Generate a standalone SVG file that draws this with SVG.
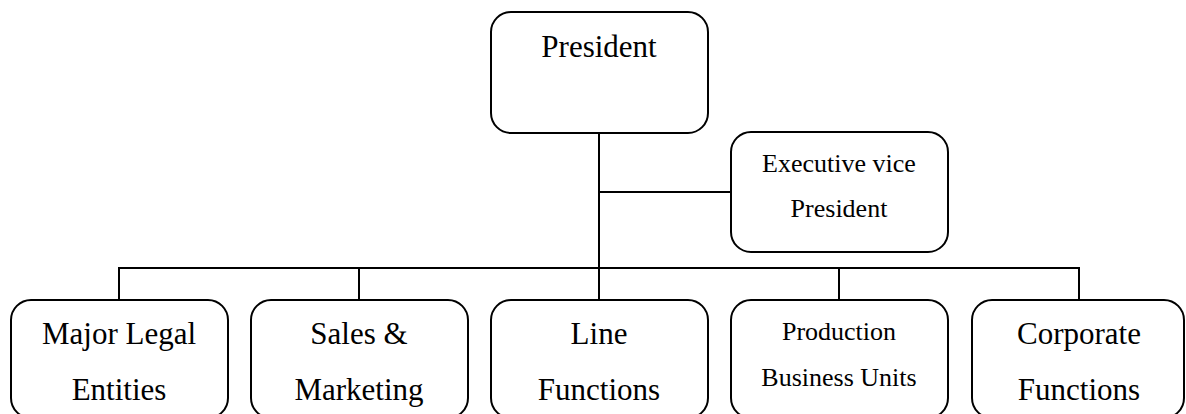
<svg xmlns="http://www.w3.org/2000/svg" width="1186" height="414" viewBox="0 0 1186 414">
<style>
.box{fill:#fff;stroke:#000;stroke-width:2}
.lg{font-family:"Liberation Serif","Times New Roman",serif;font-size:31px;fill:#000;text-anchor:middle}
.sm{font-family:"Liberation Serif","Times New Roman",serif;font-size:26px;fill:#000;text-anchor:middle}
.con{fill:none;stroke:#000;stroke-width:2}
</style>
<rect width="1186" height="414" fill="#fff"/>
<g id="connectors">
<line class="con" x1="599" y1="133" x2="599" y2="300"/>
<line class="con" x1="599" y1="192" x2="731" y2="192"/>
<line class="con" x1="119" y1="268" x2="1080" y2="268"/>
<line class="con" x1="119" y1="267" x2="119" y2="300"/>
<line class="con" x1="359" y1="268" x2="359" y2="300"/>
<line class="con" x1="839" y1="268" x2="839" y2="300"/>
<line class="con" x1="1079" y1="267" x2="1079" y2="300"/>
</g>
<g id="president">
<rect class="box" x="491" y="12" width="217" height="121" rx="20"/>
<text class="lg" x="599" y="57">President</text>
</g>
<g id="evp">
<rect class="box" x="731" y="132" width="217" height="120" rx="20"/>
<text class="sm" x="839" y="172">Executive vice</text>
<text class="sm" x="839" y="217">President</text>
</g>
<g id="legal">
<rect class="box" x="11" y="300" width="217" height="118" rx="20"/>
<text class="lg" x="119" y="344">Major Legal</text>
<text class="lg" x="119" y="400">Entities</text>
</g>
<g id="sales">
<rect class="box" x="251" y="300" width="217" height="118" rx="20"/>
<text class="lg" x="359" y="344">Sales &amp;</text>
<text class="lg" x="359" y="400">Marketing</text>
</g>
<g id="line">
<rect class="box" x="491" y="300" width="217" height="118" rx="20"/>
<text class="lg" x="599" y="344">Line</text>
<text class="lg" x="599" y="400">Functions</text>
</g>
<g id="production">
<rect class="box" x="731" y="300" width="217" height="118" rx="20"/>
<text class="sm" x="839" y="340">Production</text>
<text class="sm" x="839" y="386">Business Units</text>
</g>
<g id="corporate">
<rect class="box" x="972" y="300" width="212" height="118" rx="20"/>
<text class="lg" x="1079" y="344">Corporate</text>
<text class="lg" x="1079" y="400">Functions</text>
</g>
</svg>
